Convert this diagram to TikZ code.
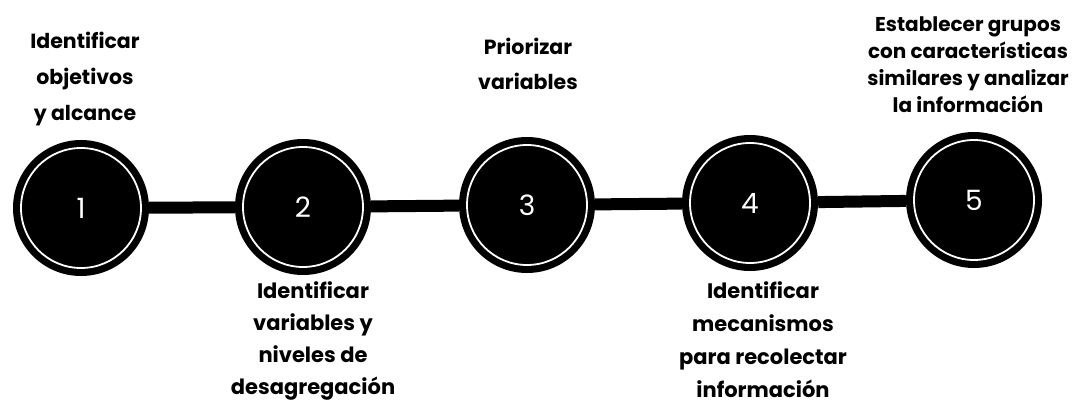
\documentclass[tikz,border=0pt]{standalone}
\usepackage{fontspec}
\setmainfont{Poppins}
\begin{document}
\begin{tikzpicture}[x=1pt,y=-1pt,
  stepcircle/.style={circle,fill=black,inner sep=0pt,minimum size=136pt,
    text=white,font=\fontsize{28}{32}\selectfont,
    path picture={\draw[white,line width=1.8pt] (path picture bounding box.center) circle (60pt);}},
  conn/.style={line width=12pt,black},
  lbl/.style 2 args={align=center,inner sep=0pt,font=\bfseries\fontsize{#1}{#2}\selectfont}]
\useasboundingbox[fill=white] (0,0) rectangle (1073,402);
\node[stepcircle] (c1) at (81,208) {1};
\node[stepcircle] (c2) at (303,207) {2};
\node[stepcircle] (c3) at (527,205) {3};
\node[stepcircle] (c4) at (750,203) {4};
\node[stepcircle] (c5) at (974,200) {5};
\draw[conn] (c1) -- (c2);
\draw[conn] (c2) -- (c3);
\draw[conn] (c3) -- (c4);
\draw[conn] (c4) -- (c5);
\node[lbl={20.5}{36}] (t1) at (85,79) {Identificar\\objetivos\\y alcance};
\node[lbl={20.5}{35}] (t3) at (528,64) {Priorizar\\variables};
\node[lbl={20}{27}] (t5) at (968,65) {Establecer grupos\\con características\\similares y analizar\\la información};
\node[lbl={21}{32}] (t2) at (313,341) {Identificar\\variables y\\niveles de\\desagregación};
\node[lbl={21}{33}] (t4) at (763,340) {Identificar\\mecanismos\\para recolectar\\información};
\end{tikzpicture}
\end{document}
